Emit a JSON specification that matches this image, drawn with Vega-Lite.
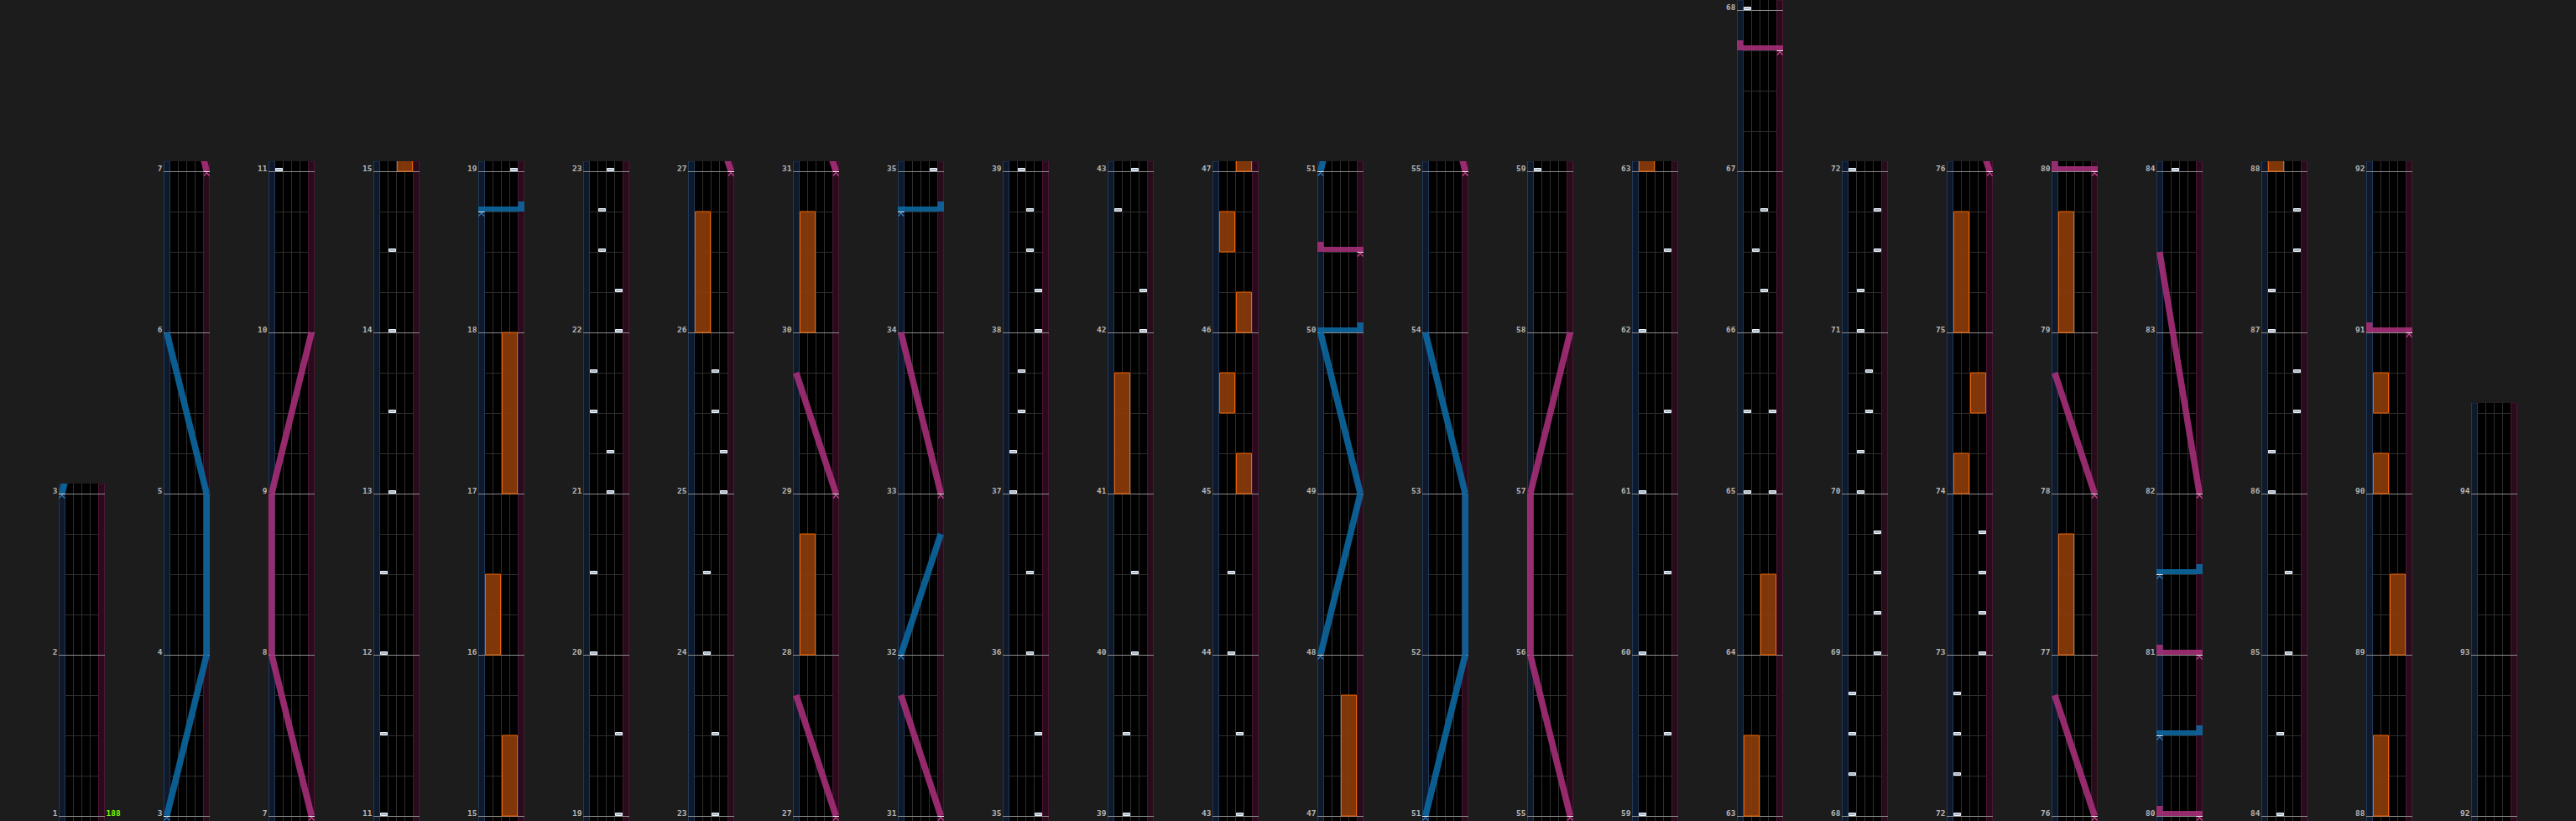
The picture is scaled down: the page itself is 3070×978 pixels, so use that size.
{
"$schema": "https://vega.github.io/schema/vega-lite/v6.json",
"width": 3070, "height": 978,
"autosize": {"type": "none"},
"padding": 0,
"background": "#1c1c1c",
"config": {"view": {"stroke": null}},
"datasets": {
"cols": [{"c":0,"s":1,"e":3},{"c":1,"s":3,"e":7},{"c":2,"s":7,"e":11},{"c":3,"s":11,"e":15},{"c":4,"s":15,"e":19},{"c":5,"s":19,"e":23},{"c":6,"s":23,"e":27},{"c":7,"s":27,"e":31},{"c":8,"s":31,"e":35},{"c":9,"s":35,"e":39},{"c":10,"s":39,"e":43},{"c":11,"s":43,"e":47},{"c":12,"s":47,"e":51},{"c":13,"s":51,"e":55},{"c":14,"s":55,"e":59},{"c":15,"s":59,"e":63},{"c":16,"s":63,"e":68},{"c":17,"s":68,"e":72},{"c":18,"s":72,"e":76},{"c":19,"s":76,"e":80},{"c":20,"s":80,"e":84},{"c":21,"s":84,"e":88},{"c":22,"s":88,"e":92},{"c":23,"s":92,"e":94.5}],
"meas": [1,2,3,4,5,6,7,8,9,10,11,12,13,14,15,16,17,18,19,20,21,22,23,24,25,26,27,28,29,30,31,32,33,34,35,36,37,38,39,40,41,42,43,44,45,46,47,48,49,50,51,52,53,54,55,56,57,58,59,60,61,62,63,64,65,66,67,68,69,70,71,72,73,74,75,76,77,78,79,80,81,82,83,84,85,86,87,88,89,90,91,92,93,94],
"beats": [1.25,1.5,1.75,2.25,2.5,2.75,3.25,3.5,3.75,4.25,4.5,4.75,5.25,5.5,5.75,6.25,6.5,6.75,7.25,7.5,7.75,8.25,8.5,8.75,9.25,9.5,9.75,10.25,10.5,10.75,11.25,11.5,11.75,12.25,12.5,12.75,13.25,13.5,13.75,14.25,14.5,14.75,15.25,15.5,15.75,16.25,16.5,16.75,17.25,17.5,17.75,18.25,18.5,18.75,19.25,19.5,19.75,20.25,20.5,20.75,21.25,21.5,21.75,22.25,22.5,22.75,23.25,23.5,23.75,24.25,24.5,24.75,25.25,25.5,25.75,26.25,26.5,26.75,27.25,27.5,27.75,28.25,28.5,28.75,29.25,29.5,29.75,30.25,30.5,30.75,31.25,31.5,31.75,32.25,32.5,32.75,33.25,33.5,33.75,34.25,34.5,34.75,35.25,35.5,35.75,36.25,36.5,36.75,37.25,37.5,37.75,38.25,38.5,38.75,39.25,39.5,39.75,40.25,40.5,40.75,41.25,41.5,41.75,42.25,42.5,42.75,43.25,43.5,43.75,44.25,44.5,44.75,45.25,45.5,45.75,46.25,46.5,46.75,47.25,47.5,47.75,48.25,48.5,48.75,49.25,49.5,49.75,50.25,50.5,50.75,51.25,51.5,51.75,52.25,52.5,52.75,53.25,53.5,53.75,54.25,54.5,54.75,55.25,55.5,55.75,56.25,56.5,56.75,57.25,57.5,57.75,58.25,58.5,58.75,59.25,59.5,59.75,60.25,60.5,60.75,61.25,61.5,61.75,62.25,62.5,62.75,63.25,63.5,63.75,64.25,64.5,64.75,65.25,65.5,65.75,66.25,66.5,66.75,67.25,67.5,67.75,68.25,68.5,68.75,69.25,69.5,69.75,70.25,70.5,70.75,71.25,71.5,71.75,72.25,72.5,72.75,73.25,73.5,73.75,74.25,74.5,74.75,75.25,75.5,75.75,76.25,76.5,76.75,77.25,77.5,77.75,78.25,78.5,78.75,79.25,79.5,79.75,80.25,80.5,80.75,81.25,81.5,81.75,82.25,82.5,82.75,83.25,83.5,83.75,84.25,84.5,84.75,85.25,85.5,85.75,86.25,86.5,86.75,87.25,87.5,87.75,88.25,88.5,88.75,89.25,89.5,89.75,90.25,90.5,90.75,91.25,91.5,91.75,92.25,92.5,92.75,93.25,93.5,93.75,94.25,94.5],
"chips": [{"m":11,"l":0},{"m":11.5,"l":0},{"m":12,"l":0},{"m":12.5,"l":0},{"m":13,"l":1},{"m":13.5,"l":1},{"m":14,"l":1},{"m":14.5,"l":1},
{"m":19,"l":3},{"m":19.5,"l":3},{"m":20,"l":0},{"m":20.5,"l":0},{"m":21,"l":2},{"m":21.25,"l":2},{"m":21.5,"l":0},{"m":21.75,"l":0},{"m":22,"l":3},{"m":22.25,"l":3},{"m":22.5,"l":1},{"m":22.75,"l":1},{"m":23,"l":2},
{"m":23.5,"l":2},{"m":24,"l":1},{"m":24.5,"l":1},{"m":25,"l":3},{"m":25.25,"l":3},{"m":25.5,"l":2},{"m":25.75,"l":2},
{"m":35,"l":3},{"m":35.5,"l":3},{"m":36,"l":2},{"m":36.5,"l":2},{"m":37,"l":0},{"m":37.25,"l":0},{"m":37.5,"l":1},{"m":37.75,"l":1},{"m":38,"l":3},{"m":38.25,"l":3},{"m":38.5,"l":2},{"m":38.75,"l":2},{"m":39,"l":1},
{"m":39.5,"l":1},{"m":40,"l":2},{"m":40.5,"l":2},{"m":42,"l":3},{"m":42.25,"l":3},{"m":42.75,"l":0},{"m":43,"l":2},
{"m":43.5,"l":2},{"m":44,"l":1},{"m":44.5,"l":1},
{"m":59,"l":0},{"m":59.5,"l":3},{"m":60,"l":0},{"m":60.5,"l":3},{"m":61,"l":0},{"m":61.5,"l":3},{"m":62,"l":0},{"m":62.5,"l":3},
{"m":65,"l":0},{"m":65,"l":3},{"m":65.5,"l":0},{"m":65.5,"l":3},{"m":66,"l":1},{"m":66.25,"l":2},{"m":66.5,"l":1},{"m":66.75,"l":2},{"m":68,"l":0},
{"m":68.25,"l":0},{"m":68.5,"l":0},{"m":68.75,"l":0},{"m":69,"l":3},{"m":69.25,"l":3},{"m":69.5,"l":3},{"m":69.75,"l":3},{"m":70,"l":1},{"m":70.25,"l":1},{"m":70.5,"l":2},{"m":70.75,"l":2},{"m":71,"l":1},{"m":71.25,"l":1},{"m":71.5,"l":3},{"m":71.75,"l":3},{"m":72,"l":0},
{"m":72.25,"l":0},{"m":72.5,"l":0},{"m":72.75,"l":0},{"m":73,"l":3},{"m":73.25,"l":3},{"m":73.5,"l":3},{"m":73.75,"l":3},
{"m":84,"l":1},{"m":84.5,"l":1},{"m":85,"l":2},{"m":85.5,"l":2},{"m":86,"l":0},{"m":86.25,"l":0},{"m":86.5,"l":3},{"m":86.75,"l":3},{"m":87,"l":0},{"m":87.25,"l":0},{"m":87.5,"l":3},{"m":87.75,"l":3}],
"holds": [{"m":15,"m2":15.5,"f":1},{"m":16,"m2":16.5,"f":0},{"m":17,"m2":18,"f":1},
{"m":26,"m2":26.75,"f":0},{"m":28,"m2":28.75,"f":0},{"m":30,"m2":30.75,"f":0},
{"m":41,"m2":41.75,"f":0},
{"m":45,"m2":45.25,"f":1},{"m":45.5,"m2":45.75,"f":0},{"m":46,"m2":46.25,"f":1},{"m":46.5,"m2":46.75,"f":0},{"m":47,"m2":47.75,"f":1},
{"m":63,"m2":63.5,"f":0},{"m":64,"m2":64.5,"f":1},
{"m":74,"m2":74.25,"f":0},{"m":74.5,"m2":74.75,"f":1},{"m":75,"m2":75.75,"f":0},
{"m":77,"m2":77.75,"f":0},{"m":79,"m2":79.75,"f":0},
{"m":88,"m2":88.5,"f":0},{"m":89,"m2":89.5,"f":1},{"m":90,"m2":90.25,"f":0},{"m":90.5,"m2":90.75,"f":0}],
"lasers": [
{"sd":"L","m":3,"p":0,"m2":4,"p2":1,"t":"g","st":1},{"sd":"L","m":4,"p":1,"m2":5,"p2":1,"t":"g","st":0},{"sd":"L","m":5,"p":1,"m2":6,"p2":0,"t":"g","st":0},
{"sd":"R","m":7,"p":1,"m2":8,"p2":0,"t":"g","st":1},{"sd":"R","m":8,"p":0,"m2":9,"p2":0,"t":"g","st":0},{"sd":"R","m":9,"p":0,"m2":10,"p2":1,"t":"g","st":0},
{"sd":"L","m":18.75,"p":0,"m2":18.75,"p2":1,"t":"s","st":1},
{"sd":"R","m":27,"p":1,"m2":27.75,"p2":0,"t":"g","st":1},
{"sd":"R","m":29,"p":1,"m2":29.75,"p2":0,"t":"g","st":1},
{"sd":"R","m":31,"p":1,"m2":31.75,"p2":0,"t":"g","st":1},
{"sd":"L","m":32,"p":0,"m2":32.75,"p2":1,"t":"g","st":1},
{"sd":"R","m":33,"p":1,"m2":34,"p2":0,"t":"g","st":1},
{"sd":"L","m":34.75,"p":0,"m2":34.75,"p2":1,"t":"s","st":1},
{"sd":"L","m":48,"p":0,"m2":49,"p2":1,"t":"g","st":1},{"sd":"L","m":49,"p":1,"m2":50,"p2":0,"t":"g","st":0},{"sd":"L","m":50,"p":0,"m2":50,"p2":1,"t":"s","st":0},
{"sd":"R","m":50.5,"p":1,"m2":50.5,"p2":0,"t":"s","st":1},
{"sd":"L","m":51,"p":0,"m2":52,"p2":1,"t":"g","st":1},{"sd":"L","m":52,"p":1,"m2":53,"p2":1,"t":"g","st":0},{"sd":"L","m":53,"p":1,"m2":54,"p2":0,"t":"g","st":0},
{"sd":"R","m":55,"p":1,"m2":56,"p2":0,"t":"g","st":1},{"sd":"R","m":56,"p":0,"m2":57,"p2":0,"t":"g","st":0},{"sd":"R","m":57,"p":0,"m2":58,"p2":1,"t":"g","st":0},
{"sd":"R","m":67.75,"p":1,"m2":67.75,"p2":0,"t":"s","st":1},
{"sd":"R","m":76,"p":1,"m2":76.75,"p2":0,"t":"g","st":1},
{"sd":"R","m":78,"p":1,"m2":78.75,"p2":0,"t":"g","st":1},
{"sd":"R","m":80,"p":1,"m2":80,"p2":0,"t":"s","st":1},
{"sd":"L","m":80.5,"p":0,"m2":80.5,"p2":1,"t":"s","st":1},
{"sd":"R","m":81,"p":1,"m2":81,"p2":0,"t":"s","st":1},
{"sd":"L","m":81.5,"p":0,"m2":81.5,"p2":1,"t":"s","st":1},
{"sd":"R","m":82,"p":1,"m2":83.5,"p2":0,"t":"g","st":1},
{"sd":"R","m":91,"p":1,"m2":91,"p2":0,"t":"s","st":1}],
"bpm": [{"m":1,"v":"188"}]
},
"layer": [
{"data":{"name":"cols"},
 "transform":[{"calculate":"datum.c*125","as":"xa"},{"calculate":"datum.c*125+55","as":"xb"},{"calculate":"-0.05","as":"ya"},{"calculate":"datum.e-datum.s+0.0625","as":"yb"}],
 "mark":{"type":"rect","fill":"#000000","clip":true},
 "encoding":{"x":{"field":"xa","type":"quantitative","scale":{"domain":[-70,3000],"nice":false,"zero":false},"axis":null},"x2":{"field":"xb"},
  "y":{"field":"ya","type":"quantitative","scale":{"domain":[-0.03125,5.0625],"nice":false,"zero":false},"axis":null},"y2":{"field":"yb"}}},
{"data":{"name":"cols"},
 "transform":[{"calculate":"datum.c*125+0.5","as":"xa"},{"calculate":"datum.c*125+7.5","as":"xb"},{"calculate":"-0.05","as":"ya"},{"calculate":"datum.e-datum.s+0.0625","as":"yb"}],
 "mark":{"type":"rect","fill":"#0f192c","stroke":"#20395a","strokeWidth":1,"clip":true},
 "encoding":{"x":{"field":"xa","type":"quantitative","scale":{"domain":[-70,3000],"nice":false,"zero":false},"axis":null},"x2":{"field":"xb"},
  "y":{"field":"ya","type":"quantitative","scale":{"domain":[-0.03125,5.0625],"nice":false,"zero":false},"axis":null},"y2":{"field":"yb"}}},
{"data":{"name":"cols"},
 "transform":[{"calculate":"datum.c*125+47.5","as":"xa"},{"calculate":"datum.c*125+54.5","as":"xb"},{"calculate":"-0.05","as":"ya"},{"calculate":"datum.e-datum.s+0.0625","as":"yb"}],
 "mark":{"type":"rect","fill":"#280c1c","stroke":"#4c1634","strokeWidth":1,"clip":true},
 "encoding":{"x":{"field":"xa","type":"quantitative","scale":{"domain":[-70,3000],"nice":false,"zero":false},"axis":null},"x2":{"field":"xb"},
  "y":{"field":"ya","type":"quantitative","scale":{"domain":[-0.03125,5.0625],"nice":false,"zero":false},"axis":null},"y2":{"field":"yb"}}},
{"data":{"name":"cols"},
 "transform":[{"calculate":"datum.c*125+17.5","as":"d1"},{"calculate":"datum.c*125+27.5","as":"d2"},{"calculate":"datum.c*125+37.5","as":"d3"},{"fold":["d1","d2","d3"],"as":["k","xa"]},{"calculate":"datum.xa","as":"xb"},{"calculate":"-0.05","as":"ya"},{"calculate":"datum.e-datum.s+0.0625","as":"yb"}],
 "mark":{"type":"rule","stroke":"#2e2e2e","strokeWidth":1,"clip":true},
 "encoding":{"x":{"field":"xa","type":"quantitative","scale":{"domain":[-70,3000],"nice":false,"zero":false},"axis":null},"x2":{"field":"xb"},
  "y":{"field":"ya","type":"quantitative","scale":{"domain":[-0.03125,5.0625],"nice":false,"zero":false},"axis":null},"y2":{"field":"yb"}}},
{"data":{"name":"beats"},
 "transform":[{"calculate":"datum.data","as":"m"},
  {"calculate":"datum.m<3?0:datum.m<63?floor((datum.m-3)/4)+1:datum.m<68?16:floor((datum.m-68)/4)+17","as":"ca"},{"calculate":"datum.ca-1","as":"cb"},{"fold":["ca","cb"],"as":["k","c"]},
  {"lookup":"c","from":{"data":{"name":"cols"},"key":"c","fields":["s","e"]}},
  {"filter":"isValid(datum.s) && datum.m <= datum.e + 0.07 && datum.m >= datum.s - 0.04"},
  {"calculate":"datum.c*125+7.5","as":"xa"},{"calculate":"datum.c*125+47.5","as":"xb"},{"calculate":"datum.m-datum.s-0.0026","as":"ya"},{"calculate":"datum.ya","as":"yb"}],
 "mark":{"type":"rule","stroke":"#2e2e2e","strokeWidth":1,"clip":true},
 "encoding":{"x":{"field":"xa","type":"quantitative","scale":{"domain":[-70,3000],"nice":false,"zero":false},"axis":null},"x2":{"field":"xb"},
  "y":{"field":"ya","type":"quantitative","scale":{"domain":[-0.03125,5.0625],"nice":false,"zero":false},"axis":null},"y2":{"field":"yb"}}},
{"data":{"name":"meas"},
 "transform":[{"calculate":"datum.data","as":"m"},
  {"calculate":"datum.m<3?0:datum.m<63?floor((datum.m-3)/4)+1:datum.m<68?16:floor((datum.m-68)/4)+17","as":"ca"},{"calculate":"datum.ca-1","as":"cb"},{"fold":["ca","cb"],"as":["k","c"]},
  {"lookup":"c","from":{"data":{"name":"cols"},"key":"c","fields":["s","e"]}},
  {"filter":"isValid(datum.s) && datum.m <= datum.e + 0.07 && datum.m >= datum.s - 0.04"},
  {"calculate":"datum.c*125","as":"xa"},{"calculate":"datum.c*125+55","as":"xb"},{"calculate":"datum.m-datum.s-0.0026","as":"ya"},{"calculate":"datum.ya","as":"yb"}],
 "mark":{"type":"rule","stroke":"#8c8c8c","strokeWidth":1,"clip":true},
 "encoding":{"x":{"field":"xa","type":"quantitative","scale":{"domain":[-70,3000],"nice":false,"zero":false},"axis":null},"x2":{"field":"xb"},
  "y":{"field":"ya","type":"quantitative","scale":{"domain":[-0.03125,5.0625],"nice":false,"zero":false},"axis":null},"y2":{"field":"yb"}}},
{"data":{"name":"holds"},
 "transform":[
  {"calculate":"datum.m<3?0:datum.m<63?floor((datum.m-3)/4)+1:datum.m<68?16:floor((datum.m-68)/4)+17","as":"ca"},{"calculate":"datum.ca-1","as":"cb"},{"fold":["ca","cb"],"as":["k","c"]},
  {"lookup":"c","from":{"data":{"name":"cols"},"key":"c","fields":["s","e"]}},
  {"filter":"isValid(datum.s) && datum.m <= datum.e + 0.07 && datum.m2 >= datum.s - 0.04"},
  {"calculate":"datum.c*125+8.5+datum.f*20","as":"xa"},{"calculate":"datum.xa+18","as":"xb"},{"calculate":"datum.m-datum.s","as":"ya"},{"calculate":"datum.m2-datum.s","as":"yb"}],
 "mark":{"type":"rect","fill":"#8a3c0a","stroke":"#ff6a00","strokeWidth":1,"opacity":0.92,"clip":true},
 "encoding":{"x":{"field":"xa","type":"quantitative","scale":{"domain":[-70,3000],"nice":false,"zero":false},"axis":null},"x2":{"field":"xb"},
  "y":{"field":"ya","type":"quantitative","scale":{"domain":[-0.03125,5.0625],"nice":false,"zero":false},"axis":null},"y2":{"field":"yb"}}},
{"data":{"name":"chips"},
 "transform":[
  {"calculate":"datum.m<3?0:datum.m<63?floor((datum.m-3)/4)+1:datum.m<68?16:floor((datum.m-68)/4)+17","as":"ca"},{"calculate":"datum.ca-1","as":"cb"},{"fold":["ca","cb"],"as":["k","c"]},
  {"lookup":"c","from":{"data":{"name":"cols"},"key":"c","fields":["s","e"]}},
  {"filter":"isValid(datum.s) && datum.m <= datum.e + 0.07 && datum.m >= datum.s - 0.04"},
  {"calculate":"datum.c*125+8.5+datum.l*10","as":"xa"},{"calculate":"datum.xa+8","as":"xb"},{"calculate":"datum.m-datum.s+0.0026","as":"ya"},{"calculate":"datum.m-datum.s+0.0182","as":"yb"}],
 "mark":{"type":"rect","fill":"#a9b9cc","stroke":"#f2f6fb","strokeWidth":1,"clip":true},
 "encoding":{"x":{"field":"xa","type":"quantitative","scale":{"domain":[-70,3000],"nice":false,"zero":false},"axis":null},"x2":{"field":"xb"},
  "y":{"field":"ya","type":"quantitative","scale":{"domain":[-0.03125,5.0625],"nice":false,"zero":false},"axis":null},"y2":{"field":"yb"}}},
{"data":{"name":"lasers"},
 "transform":[{"filter":"datum.t == 'g'"},
  {"calculate":"datum.m<3?0:datum.m<63?floor((datum.m-3)/4)+1:datum.m<68?16:floor((datum.m-68)/4)+17","as":"ca"},{"calculate":"datum.ca-1","as":"cb"},{"fold":["ca","cb"],"as":["k","c"]},
  {"lookup":"c","from":{"data":{"name":"cols"},"key":"c","fields":["s","e"]}},
  {"filter":"isValid(datum.s) && datum.m <= datum.e + 0.07 && datum.m2 >= datum.s - 0.04"},
  {"calculate":"datum.c*125+3.75+datum.p*47.5","as":"xa"},{"calculate":"datum.c*125+3.75+datum.p2*47.5","as":"xb"},{"calculate":"datum.m-datum.s","as":"ya"},{"calculate":"datum.m2-datum.s","as":"yb"}],
 "mark":{"type":"rule","strokeWidth":7.6,"strokeCap":"butt","opacity":0.88,"clip":true},
 "encoding":{"x":{"field":"xa","type":"quantitative","scale":{"domain":[-70,3000],"nice":false,"zero":false},"axis":null},"x2":{"field":"xb"},
  "y":{"field":"ya","type":"quantitative","scale":{"domain":[-0.03125,5.0625],"nice":false,"zero":false},"axis":null},"y2":{"field":"yb"},
  "color":{"field":"sd","type":"nominal","scale":{"domain":["L","R"],"range":["#0c6aa4","#a8307a"]},"legend":null}}},
{"data":{"name":"lasers"},
 "transform":[{"filter":"datum.t == 's'"},
  {"calculate":"datum.m<3?0:datum.m<63?floor((datum.m-3)/4)+1:datum.m<68?16:floor((datum.m-68)/4)+17","as":"ca"},{"calculate":"datum.ca-1","as":"cb"},{"fold":["ca","cb"],"as":["k","c"]},
  {"lookup":"c","from":{"data":{"name":"cols"},"key":"c","fields":["s","e"]}},
  {"filter":"isValid(datum.s) && datum.m <= datum.e + 0.07 && datum.m2 >= datum.s - 0.04"},
  {"calculate":"datum.c*125+min(datum.p,datum.p2)*47.5","as":"xa"},{"calculate":"datum.c*125+max(datum.p,datum.p2)*47.5+7.5","as":"xb"},{"calculate":"datum.m-datum.s","as":"ya"},{"calculate":"datum.m-datum.s+0.03125","as":"yb"}],
 "mark":{"type":"rect","opacity":0.88,"clip":true},
 "encoding":{"x":{"field":"xa","type":"quantitative","scale":{"domain":[-70,3000],"nice":false,"zero":false},"axis":null},"x2":{"field":"xb"},
  "y":{"field":"ya","type":"quantitative","scale":{"domain":[-0.03125,5.0625],"nice":false,"zero":false},"axis":null},"y2":{"field":"yb"},
  "color":{"field":"sd","type":"nominal","scale":{"domain":["L","R"],"range":["#0c6aa4","#a8307a"]},"legend":null}}},
{"data":{"name":"lasers"},
 "transform":[{"filter":"datum.t == 's'"},
  {"calculate":"datum.m<3?0:datum.m<63?floor((datum.m-3)/4)+1:datum.m<68?16:floor((datum.m-68)/4)+17","as":"ca"},{"calculate":"datum.ca-1","as":"cb"},{"fold":["ca","cb"],"as":["k","c"]},
  {"lookup":"c","from":{"data":{"name":"cols"},"key":"c","fields":["s","e"]}},
  {"filter":"isValid(datum.s) && datum.m <= datum.e + 0.07 && datum.m2 >= datum.s - 0.04"},
  {"calculate":"datum.c*125+datum.p2*47.5","as":"xa"},{"calculate":"datum.xa+7.5","as":"xb"},{"calculate":"datum.m-datum.s+0.03125","as":"ya"},{"calculate":"datum.m-datum.s+0.0625","as":"yb"}],
 "mark":{"type":"rect","opacity":0.88,"clip":true},
 "encoding":{"x":{"field":"xa","type":"quantitative","scale":{"domain":[-70,3000],"nice":false,"zero":false},"axis":null},"x2":{"field":"xb"},
  "y":{"field":"ya","type":"quantitative","scale":{"domain":[-0.03125,5.0625],"nice":false,"zero":false},"axis":null},"y2":{"field":"yb"},
  "color":{"field":"sd","type":"nominal","scale":{"domain":["L","R"],"range":["#0c6aa4","#a8307a"]},"legend":null}}},
{"data":{"name":"lasers"},
 "transform":[{"filter":"datum.st == 1"},
  {"calculate":"datum.m<3?0:datum.m<63?floor((datum.m-3)/4)+1:datum.m<68?16:floor((datum.m-68)/4)+17","as":"ca"},{"calculate":"datum.ca-1","as":"cb"},{"fold":["ca","cb"],"as":["k","c"]},
  {"lookup":"c","from":{"data":{"name":"cols"},"key":"c","fields":["s","e"]}},
  {"filter":"isValid(datum.s) && datum.m <= datum.e + 0.07 && datum.m >= datum.s - 0.04"},
  {"calculate":"datum.c*125+datum.p*47.5","as":"xa"},{"calculate":"datum.xa+7.5","as":"xb"},{"calculate":"datum.m-datum.s-0.0026","as":"ya"},{"calculate":"datum.ya","as":"yb"}],
 "mark":{"type":"rule","stroke":"#f4f4f4","strokeWidth":1,"clip":true},
 "encoding":{"x":{"field":"xa","type":"quantitative","scale":{"domain":[-70,3000],"nice":false,"zero":false},"axis":null},"x2":{"field":"xb"},
  "y":{"field":"ya","type":"quantitative","scale":{"domain":[-0.03125,5.0625],"nice":false,"zero":false},"axis":null},"y2":{"field":"yb"}}},
{"data":{"name":"lasers"},
 "transform":[{"filter":"datum.st == 1"},
  {"calculate":"datum.m<3?0:datum.m<63?floor((datum.m-3)/4)+1:datum.m<68?16:floor((datum.m-68)/4)+17","as":"ca"},{"calculate":"datum.ca-1","as":"cb"},{"fold":["ca","cb"],"as":["k","c"]},
  {"lookup":"c","from":{"data":{"name":"cols"},"key":"c","fields":["s","e"]}},
  {"filter":"isValid(datum.s) && datum.m <= datum.e + 0.07 && datum.m >= datum.s - 0.04"},
  {"calculate":"datum.c*125+3.75+datum.p*47.5","as":"xa"},{"calculate":"datum.m-datum.s-0.0185","as":"ya"}],
 "mark":{"type":"point","shape":"M-1,0.6L0,-0.6L1,0.6","size":42,"filled":false,"strokeWidth":1.3,"opacity":1,"clip":true},
 "encoding":{"x":{"field":"xa","type":"quantitative","scale":{"domain":[-70,3000],"nice":false,"zero":false},"axis":null},
  "y":{"field":"ya","type":"quantitative","scale":{"domain":[-0.03125,5.0625],"nice":false,"zero":false},"axis":null},
  "stroke":{"field":"sd","type":"nominal","scale":{"domain":["L","R"],"range":["#2f7db8","#c4478f"]},"legend":null}}},
{"data":{"name":"cols"},
 "transform":[{"calculate":"datum.c*125-3","as":"xa"},{"calculate":"datum.c*125+58","as":"xb"},{"calculate":"datum.e-datum.s+0.0625","as":"ya"},{"calculate":"5.3","as":"yb"}],
 "mark":{"type":"rect","fill":"#1c1c1c","clip":true},
 "encoding":{"x":{"field":"xa","type":"quantitative","scale":{"domain":[-70,3000],"nice":false,"zero":false},"axis":null},"x2":{"field":"xb"},
  "y":{"field":"ya","type":"quantitative","scale":{"domain":[-0.03125,5.0625],"nice":false,"zero":false},"axis":null},"y2":{"field":"yb"}}},
{"data":{"name":"meas"},
 "transform":[{"calculate":"datum.data","as":"m"},
  {"calculate":"datum.m<3?0:datum.m<63?floor((datum.m-3)/4)+1:datum.m<68?16:floor((datum.m-68)/4)+17","as":"ca"},{"calculate":"datum.ca-1","as":"cb"},{"fold":["ca","cb"],"as":["k","c"]},
  {"lookup":"c","from":{"data":{"name":"cols"},"key":"c","fields":["s","e"]}},
  {"filter":"isValid(datum.s) && datum.m <= datum.e + 0.07 && datum.m >= datum.s - 0.04"},
  {"calculate":"datum.c*125-1.5","as":"xa"},{"calculate":"datum.m-datum.s","as":"ya"},{"calculate":"''+datum.m","as":"lbl"}],
 "mark":{"type":"text","align":"right","baseline":"alphabetic","font":"DejaVu Sans Mono","fontSize":9.5,"fontWeight":"bold","fill":"#b4b4b4"},
 "encoding":{"x":{"field":"xa","type":"quantitative","scale":{"domain":[-70,3000],"nice":false,"zero":false},"axis":null},
  "y":{"field":"ya","type":"quantitative","scale":{"domain":[-0.03125,5.0625],"nice":false,"zero":false},"axis":null},
  "text":{"field":"lbl","type":"nominal"}}},
{"data":{"name":"bpm"},
 "transform":[
  {"calculate":"datum.m<3?0:datum.m<63?floor((datum.m-3)/4)+1:datum.m<68?16:floor((datum.m-68)/4)+17","as":"c"},
  {"lookup":"c","from":{"data":{"name":"cols"},"key":"c","fields":["s","e"]}},
  {"calculate":"datum.c*125+56.5","as":"xa"},{"calculate":"datum.m-datum.s","as":"ya"}],
 "mark":{"type":"text","align":"left","baseline":"alphabetic","font":"DejaVu Sans Mono","fontSize":9.5,"fontWeight":"bold","fill":"#7fff00"},
 "encoding":{"x":{"field":"xa","type":"quantitative","scale":{"domain":[-70,3000],"nice":false,"zero":false},"axis":null},
  "y":{"field":"ya","type":"quantitative","scale":{"domain":[-0.03125,5.0625],"nice":false,"zero":false},"axis":null},
  "text":{"field":"v","type":"nominal"}}}
]
}
